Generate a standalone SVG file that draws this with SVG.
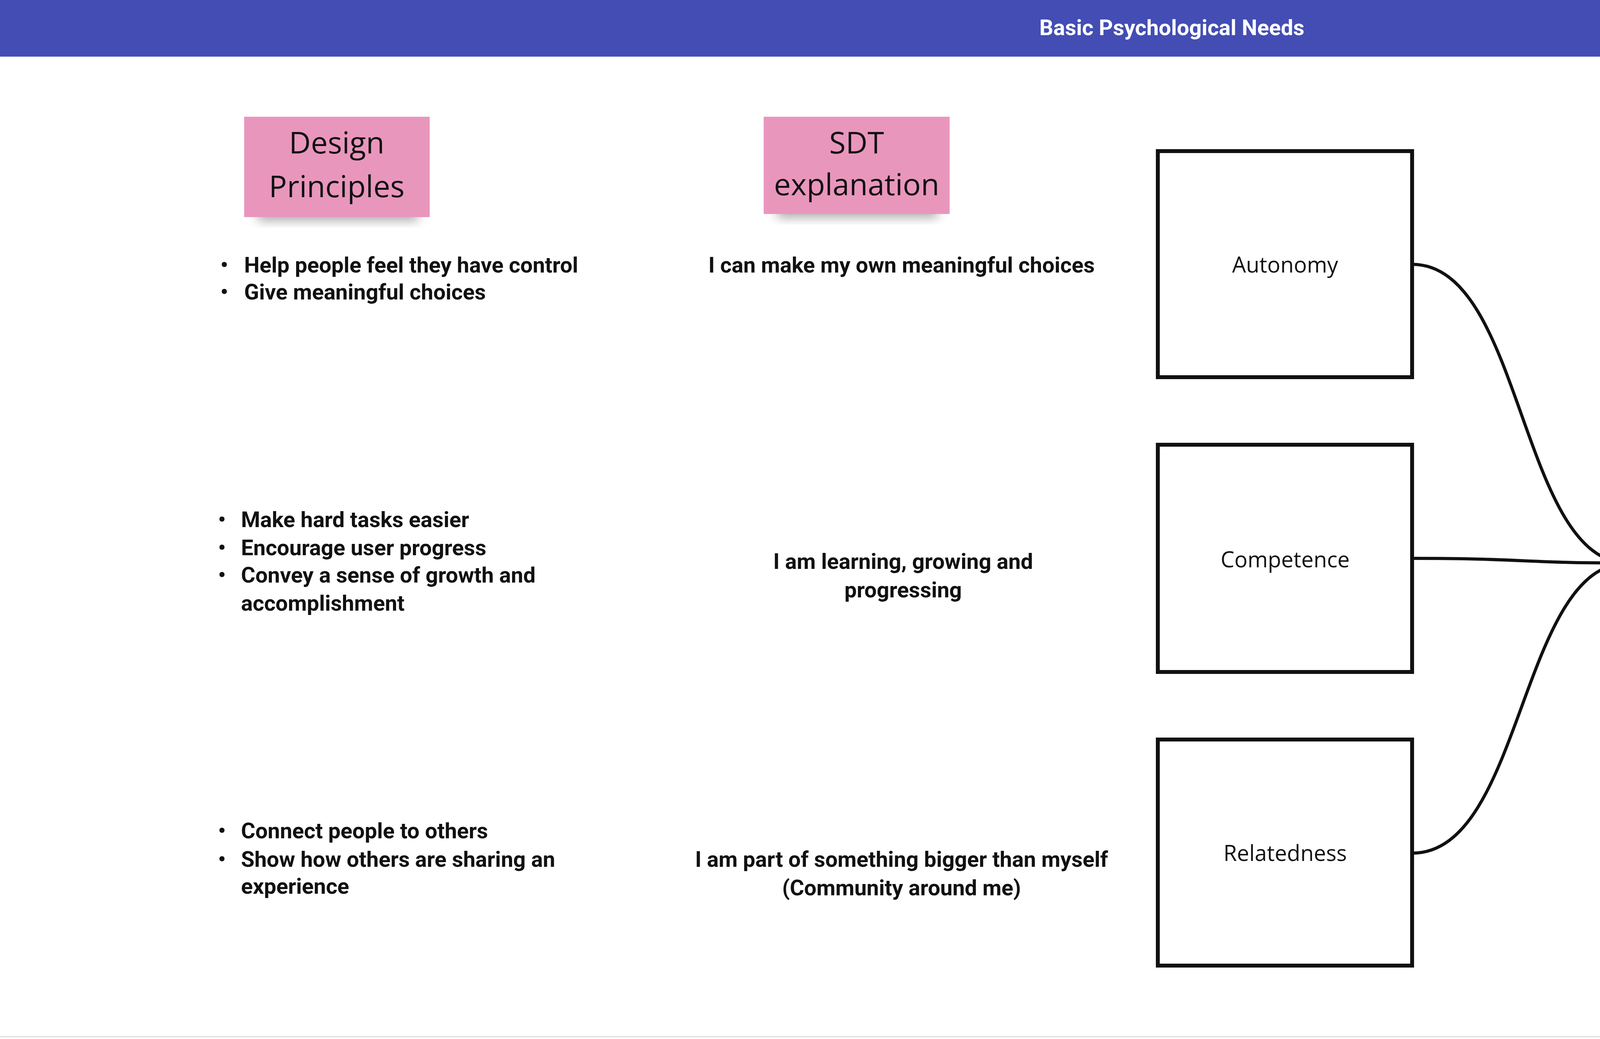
<svg xmlns="http://www.w3.org/2000/svg" width="6011" height="2661" viewBox="0 0 6011 2661">
<defs>
<filter id="sh" x="-20%" y="-20%" width="140%" height="160%"><feGaussianBlur stdDeviation="14"/></filter>
<style>
.b{font-family:Roboto,"Liberation Sans",sans-serif;font-weight:bold;font-size:56px;fill:#111}
.o{font-family:"Open Sans","Noto Sans",sans-serif;fill:#111}
.box{fill:#fff;stroke:#111;stroke-width:10}
.c{fill:none;stroke:#111;stroke-width:8}
</style>
</defs>
<rect width="6011" height="2661" fill="#fff"/>
<line x1="6005" y1="145" x2="6005" y2="2655" stroke="#e6e6e6" stroke-width="4"/>
<line x1="0" y1="2655" x2="6005" y2="2655" stroke="#e6e6e6" stroke-width="4"/>
<g id="header"><rect x="0" y="0" width="6011" height="145" fill="#434db3"/>
<text x="3000" y="90" text-anchor="middle" class="b" style="fill:#fff">Basic Psychological Needs</text></g>
<g id="sticky1"><rect x="660" y="520" width="410" height="45" fill="#555" opacity="0.5" filter="url(#sh)"/>
<rect x="625" y="299" width="475" height="257" fill="#e996bd"/>
<text class="o" font-size="77" text-anchor="middle"><tspan x="862" y="393">Design</tspan><tspan x="862" y="505">Principles</tspan></text></g>
<g id="sticky2"><rect x="1990" y="512" width="410" height="45" fill="#555" opacity="0.5" filter="url(#sh)"/>
<rect x="1955" y="299" width="476" height="249" fill="#e996bd"/>
<text class="o" font-size="77" text-anchor="middle"><tspan x="2193" y="393">SDT</tspan><tspan x="2193" y="500">explanation</tspan></text></g>
<g id="dp1" class="b"><text x="564" y="698">•</text><text x="625" y="698">Help people feel they have control</text>
<text x="564" y="767">•</text><text x="625" y="767">Give meaningful choices</text></g>
<g id="dp2" class="b"><text x="558" y="1350">•</text><text x="617" y="1350">Make hard tasks easier</text>
<text x="558" y="1422">•</text><text x="617" y="1422">Encourage user progress</text>
<text x="558" y="1492">•</text><text x="617" y="1492">Convey a sense of growth and</text>
<text x="617" y="1564">accomplishment</text></g>
<g id="dp3" class="b"><text x="558" y="2147">•</text><text x="617" y="2147">Connect people to others</text>
<text x="558" y="2220">•</text><text x="617" y="2220">Show how others are sharing an</text>
<text x="617" y="2289">experience</text></g>
<g id="sdt1" class="b" text-anchor="middle"><text x="2308" y="698">I can make my own meaningful choices</text></g>
<g id="sdt2" class="b" text-anchor="middle"><text x="2312" y="1457">I am learning, growing and</text><text x="2312" y="1530">progressing</text></g>
<g id="sdt3" class="b" text-anchor="middle"><text x="2308" y="2220">I am part of something bigger than myself</text><text x="2308" y="2293">(Community around me)</text></g>
<g id="connectors">
<path class="c" d="M3615,677 C3900,677 3890,1442 4168,1442"/>
<path class="c" d="M3615,1430 C3900,1430 3900,1442 4168,1442"/>
<path class="c" d="M3615,2185 C3900,2185 3890,1442 4168,1442"/>
</g>
<g id="autonomy"><rect class="box" x="2964" y="387" width="651" height="579"/><text class="o" font-size="56" x="3290" y="698" text-anchor="middle">Autonomy</text></g>
<g id="competence"><rect class="box" x="2964" y="1139" width="651" height="582"/><text class="o" font-size="56" x="3290" y="1453" text-anchor="middle">Competence</text></g>
<g id="relatedness"><rect class="box" x="2964" y="1894" width="651" height="579"/><text class="o" font-size="56" x="3290" y="2205" text-anchor="middle">Relatedness</text></g>
<g id="needs"><rect class="box" x="4168" y="913" width="1595" height="1054"/>
<text class="o" font-size="115" text-anchor="middle"><tspan x="4965" y="1407">Psychological Needs to</tspan><tspan x="4965" y="1560">drive motivation</tspan></text></g>
</svg>
